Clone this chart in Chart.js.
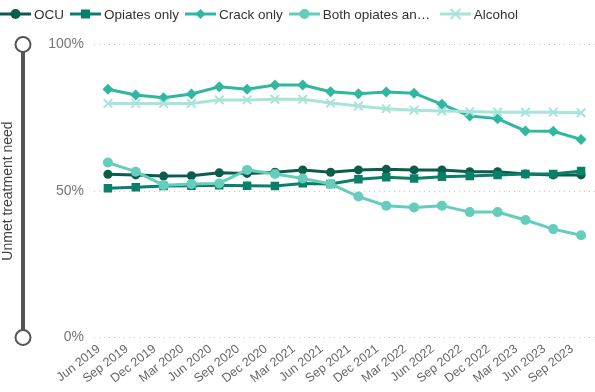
<!DOCTYPE html>
<html>
<head>
<meta charset="utf-8">
<script src="https://cdn.jsdelivr.net/npm/chart.js@4.4.1/dist/chart.umd.min.js"></script>
<style>
  html, body { margin: 0; padding: 0; background: #fff; }
  #wrap { position: relative; width: 595px; height: 392px; overflow: hidden; }
  canvas { position: absolute; left: 0; top: 0; }
  #legend {
    position: absolute; left: 0; top: 5px; height: 18px;
    display: flex; align-items: center; white-space: nowrap;
    font: 13.5px "Liberation Sans", Arial, sans-serif; color: #333;
  }
  .item { display: flex; align-items: center; margin-right: 6px; }
  .item svg { margin-right: 3px; flex: none; }
  .name { overflow: hidden; text-overflow: ellipsis; }
</style>
</head>
<body>
<div id="wrap">
  <canvas id="c" width="595" height="392"></canvas>
  <div id="legend"></div>
</div>
<script>
// Quarterly periods
const quarters = ['Jun 2019', 'Sep 2019', 'Dec 2019', 'Mar 2020', 'Jun 2020', 'Sep 2020',
  'Dec 2020', 'Mar 2021', 'Jun 2021', 'Sep 2021', 'Dec 2021', 'Mar 2022',
  'Jun 2022', 'Sep 2022', 'Dec 2022', 'Mar 2023', 'Jun 2023', 'Sep 2023'];

// Unmet treatment need (%) by substance group
const ocu = [55.7, 55.5, 55.1, 55.2, 56.2, 56.0, 56.4, 57.2, 56.4, 57.2, 57.4, 57.2, 57.2, 56.6, 56.6, 55.8, 55.5, 55.5];
const opiatesOnly = [50.9, 51.3, 51.7, 51.8, 52.0, 51.8, 51.7, 52.6, 52.4, 54.0, 54.7, 54.3, 54.9, 55.1, 55.5, 55.8, 55.8, 56.8];
const crackOnly = [84.7, 82.8, 81.8, 83.1, 85.6, 84.7, 86.2, 86.2, 83.9, 83.2, 83.8, 83.4, 79.6, 75.6, 74.7, 70.5, 70.4, 67.6];
const bothOpiatesCrack = [59.7, 56.6, 52.0, 52.4, 52.6, 57.2, 55.8, 54.3, 52.4, 48.1, 45.0, 44.4, 45.0, 42.8, 42.8, 40.1, 37.0, 34.9];
const alcohol = [79.9, 79.9, 79.9, 79.9, 81.1, 81.1, 81.3, 81.3, 80.0, 79.0, 78.1, 77.6, 77.3, 77.1, 76.9, 76.9, 76.9, 76.7];

// Y axis ticks
const yTicks = [0, 50, 100];

const series = [
  { label: 'OCU', data: ocu, color: '#0C5C4C', style: 'circle', radius: 4.5 },
  { label: 'Opiates only', data: opiatesOnly, color: '#0B8068', style: 'rect', radius: 6 },
  { label: 'Crack only', data: crackOnly, color: '#2FB89F', style: 'rectRot', radius: 5.5 },
  { label: 'Both opiates and crack', data: bothOpiatesCrack, color: '#64CDBC', style: 'circle', radius: 5 },
  { label: 'Alcohol', data: alcohol, color: '#A8E4D9', style: 'crossRot', radius: 6 }
];

const datasets = series.map((s, i) => ({
  label: s.label,
  data: s.data,
  borderColor: s.color,
  backgroundColor: s.color,
  borderWidth: 3,
  pointStyle: s.style,
  pointRadius: s.radius,
  pointHoverRadius: s.radius,
  pointBorderWidth: s.style === 'crossRot' ? 2 : 0,
  pointBorderColor: s.color,
  pointBackgroundColor: s.color,
  tension: 0,
  order: series.length - i
}));

// Slider-style decoration beside the value axis
const sliderPlugin = {
  id: 'axisSlider',
  afterDraw(chart) {
    const y = chart.scales.y;
    const ctx = chart.ctx;
    const x = 23, top = y.getPixelForValue(100), bottom = y.getPixelForValue(0), r = 7.5;
    ctx.save();
    ctx.strokeStyle = '#555';
    ctx.lineWidth = 4;
    ctx.beginPath();
    ctx.moveTo(x, top + r);
    ctx.lineTo(x, bottom - r);
    ctx.stroke();
    ctx.lineWidth = 2;
    ctx.fillStyle = '#fff';
    [top, bottom].forEach(cy => {
      ctx.beginPath();
      ctx.arc(x, cy, r, 0, Math.PI * 2);
      ctx.fill();
      ctx.stroke();
    });
    ctx.restore();
  }
};

new Chart(document.getElementById('c'), {
  type: 'line',
  data: { labels: quarters, datasets },
  plugins: [sliderPlugin],
  options: {
    responsive: false,
    animation: false,
    layout: { autoPadding: false, padding: { top: 44.5, left: 0, right: 0, bottom: 0 } },
    plugins: { legend: { display: false }, tooltip: { enabled: false } },
    scales: {
      x: {
        offset: true,
        grid: { display: false, drawTicks: false },
        border: { display: false },
        afterFit: s => { s.height = 54.5; s.paddingLeft = 0; s.paddingRight = 0; },
        ticks: {
          autoSkip: false,
          minRotation: 38,
          maxRotation: 38,
          padding: 4,
          labelOffset: -9,
          color: '#666',
          font: { family: '"Liberation Sans", Arial, sans-serif', size: 12.5 }
        }
      },
      y: {
        min: 0,
        max: 100,
        afterFit: s => { s.width = 94; },
        afterBuildTicks: s => { s.ticks = yTicks.map(v => ({ value: v })); },
        grid: { color: '#c8c8c8', lineWidth: 1, drawTicks: false },
        border: { display: false, dash: [1, 4] },
        ticks: {
          padding: 10,
          color: '#777',
          font: { family: '"Liberation Sans", Arial, sans-serif', size: 14 },
          callback: v => v + '%'
        },
        title: {
          display: true,
          text: 'Unmet treatment need',
          color: '#444',
          padding: { top: 0, bottom: 0 },
          font: { family: '"Liberation Sans", Arial, sans-serif', size: 14 }
        }
      }
    }
  }
});

// Legend: line with marker, then series name
function markerSvg(s) {
  const c = s.color, cx = 15.5, cy = 8;
  let m = '';
  if (s.style === 'circle') m = `<circle cx="${cx}" cy="${cy}" r="5" fill="${c}"/>`;
  else if (s.style === 'rect') m = `<rect x="${cx - 4.5}" y="${cy - 4.5}" width="9" height="9" fill="${c}"/>`;
  else if (s.style === 'rectRot') m = `<polygon points="${cx},${cy - 5} ${cx + 5},${cy} ${cx},${cy + 5} ${cx - 5},${cy}" fill="${c}"/>`;
  else m = `<path d="M${cx - 5} ${cy - 5}L${cx + 5} ${cy + 5}M${cx + 5} ${cy - 5}L${cx - 5} ${cy + 5}" stroke="${c}" stroke-width="2"/>`;
  return `<svg width="31" height="16" viewBox="0 0 31 16"><line x1="0" y1="${cy}" x2="31" y2="${cy}" stroke="${c}" stroke-width="3"/>${m}</svg>`;
}
const legend = document.getElementById('legend');
series.forEach(s => {
  const item = document.createElement('div');
  item.className = 'item';
  const maxW = s.label.length > 14 ? 'max-width:111px;' : '';
  item.innerHTML = markerSvg(s) + `<span class="name" style="${maxW}">${s.label}</span>`;
  legend.appendChild(item);
});
</script>
</body>
</html>
